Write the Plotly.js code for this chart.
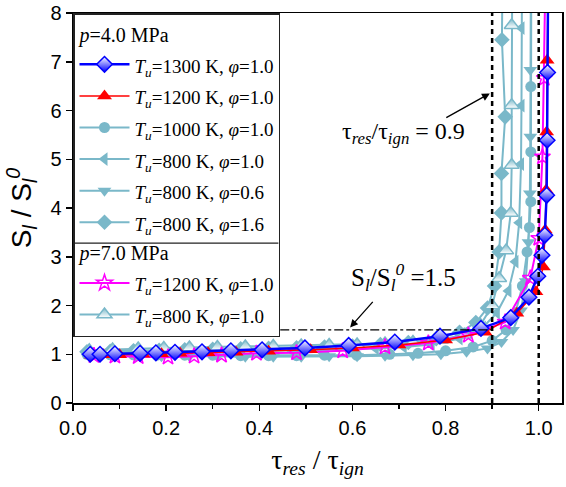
<!DOCTYPE html>
<html><head><meta charset="utf-8">
<script src="https://cdn.plot.ly/plotly-3.0.1.min.js"></script>
<style>body{margin:0;background:#fff}#plot{width:566px;height:487px}</style>
</head><body><div id="plot"></div>
<script>
// Tu=1300 K, phi=1.0, p=4.0 MPa
const x1300 = [0.037,0.058,0.090,0.144,0.178,0.219,0.277,0.339,0.406,0.498,0.592,0.691,0.788,0.876,0.940,0.979,0.998,1.007,1.013,1.017,1.018,1.019,1.020];
const y1300 = [1.00,1.00,1.01,1.02,1.03,1.04,1.05,1.07,1.09,1.13,1.18,1.25,1.37,1.53,1.75,2.17,2.60,3.03,3.44,4.26,5.39,6.78,8.40];
// Tu=1200 K, phi=1.0, p=4.0 MPa
const x1200 = [0.040,0.065,0.100,0.150,0.190,0.230,0.290,0.350,0.420,0.510,0.600,0.700,0.800,0.885,0.953,0.994,1.010,1.014,1.016,1.017,1.018,1.020];
const y1200 = [0.98,0.99,0.99,1.00,1.01,1.02,1.03,1.04,1.06,1.09,1.13,1.19,1.29,1.45,1.84,2.28,2.79,3.55,4.37,5.56,7.03,8.50];
// Tu=1000 K, phi=1.0, p=4.0 MPa
const x1000 = [0.030,0.080,0.130,0.180,0.240,0.300,0.360,0.420,0.480,0.540,0.609,0.680,0.741,0.800,0.859,0.900,0.930,0.950,0.965,0.975,0.980,0.983,0.983,0.983,0.984];
const y1000 = [1.00,0.99,0.99,0.98,0.98,0.98,0.97,0.97,0.97,0.98,0.98,1.00,1.02,1.07,1.15,1.28,1.50,1.85,2.40,3.10,3.60,4.13,5.15,6.49,8.50];
// Tu=800 K, phi=1.0, p=4.0 MPa
const x800a = [0.030,0.075,0.125,0.175,0.230,0.290,0.350,0.410,0.470,0.530,0.590,0.650,0.710,0.770,0.830,0.880,0.910,0.935,0.950,0.958,0.962,0.963,0.963,0.964];
const y800a = [1.02,1.03,1.03,1.04,1.04,1.05,1.05,1.06,1.07,1.08,1.10,1.12,1.15,1.20,1.32,1.55,1.85,2.30,2.90,3.70,4.90,6.10,7.69,8.50];
// Tu=800 K, phi=0.6, p=4.0 MPa
const x800b = [0.035,0.085,0.135,0.190,0.250,0.310,0.370,0.430,0.490,0.550,0.610,0.670,0.730,0.790,0.845,0.890,0.920,0.945,0.962,0.972,0.978,0.981,0.982,0.982,0.983];
const y800b = [0.97,0.97,0.96,0.96,0.96,0.96,0.95,0.95,0.95,0.96,0.96,0.97,0.98,1.00,1.05,1.12,1.25,1.50,1.90,2.50,3.30,4.30,5.46,6.83,8.50];
// Tu=800 K, phi=1.6, p=4.0 MPa
const x800c = [0.030,0.080,0.130,0.185,0.240,0.300,0.360,0.420,0.480,0.540,0.600,0.660,0.720,0.780,0.830,0.865,0.890,0.905,0.915,0.920,0.920,0.928,0.921,0.922];
const y800c = [1.05,1.06,1.07,1.08,1.09,1.10,1.11,1.12,1.13,1.15,1.17,1.20,1.24,1.32,1.45,1.65,1.95,2.40,3.10,3.90,4.71,5.87,7.45,8.50];
// p=7.0 MPa, Tu=1200 K, phi=1.0
const x7_1200 = [0.045,0.090,0.140,0.204,0.260,0.319,0.394,0.480,0.579,0.670,0.763,0.849,0.928,0.982,1.000,1.008,1.012,1.014];
const y7_1200 = [0.97,0.96,0.95,0.94,0.96,0.98,1.02,1.03,1.07,1.15,1.23,1.39,1.66,2.56,3.38,5.05,6.66,8.50];
// p=7.0 MPa, Tu=800 K, phi=1.0
const x7_800 = [0.035,0.085,0.140,0.195,0.250,0.310,0.370,0.430,0.490,0.550,0.610,0.670,0.730,0.790,0.840,0.875,0.900,0.915,0.930,0.940,0.942,0.942,0.942,0.943];
const y7_800 = [1.08,1.10,1.12,1.13,1.14,1.15,1.16,1.17,1.18,1.19,1.20,1.22,1.25,1.30,1.40,1.60,2.00,2.56,3.13,3.90,4.88,6.11,7.75,8.50];

const labels = [
  '<i>T</i><sub><i>u</i></sub>=1300 K, <i>φ</i>=1.0',
  '<i>T</i><sub><i>u</i></sub>=1200 K, <i>φ</i>=1.0',
  '<i>T</i><sub><i>u</i></sub>=1000 K, <i>φ</i>=1.0',
  '<i>T</i><sub><i>u</i></sub>=800 K, <i>φ</i>=1.0',
  '<i>T</i><sub><i>u</i></sub>=800 K, <i>φ</i>=0.6',
  '<i>T</i><sub><i>u</i></sub>=800 K, <i>φ</i>=1.6',
  '<i>T</i><sub><i>u</i></sub>=1200 K, <i>φ</i>=1.0',
  '<i>T</i><sub><i>u</i></sub>=800 K, <i>φ</i>=1.0'
];
const groupTitles = ['<i>p</i>=4.0 MPa', '<i>p</i>=7.0 MPa'];

const LB = '#7ab8c9';
const sp = s => '<span style="font-size:19px">' + s + '</span>';
const gfont = {family:'Liberation Serif, Times New Roman, serif', size:20, color:'#000'};

function tr(x, y, name, rank, group, color, marker, lw, title){
  const t = {x:x, y:y, name:sp(name), mode:'lines+markers', type:'scatter',
    legendgroup:group, legendrank:rank,
    line:{color:color, width:lw}, marker:marker};
  if (title) t.legendgrouptitle = {text:title, font:gfont};
  return t;
}

const data = [
  tr(x800c, y800c, labels[5], 6, 'g4', LB, {symbol:'diamond', size:12, color:LB}, 2),
  tr(x800b, y800b, labels[4], 5, 'g4', LB, {symbol:'triangle-down', size:12, color:LB}, 2),
  tr(x800a, y800a, labels[3], 4, 'g4', LB, {symbol:'triangle-left', size:12, color:LB}, 2),
  tr(x1000, y1000, labels[2], 3, 'g4', LB, {symbol:'circle', size:11, color:LB}, 2),
  tr(x7_800, y7_800, labels[7], 8, 'g7', LB, {symbol:'triangle-up', size:13, color:LB, gradient:{type:'vertical', color:'#ffffff'}, line:{color:LB, width:1.5}}, 2),
  tr(x7_1200, y7_1200, labels[6], 7, 'g7', '#ff00ff', {symbol:'star-open', size:12, color:'#ff00ff', line:{width:1.5}}, 2, groupTitles[1]),
  tr(x1200, y1200, labels[1], 2, 'g4', '#ff0000', {symbol:'triangle-up', size:13, color:'#ff0000'}, 1.5),
  tr(x1300, y1300, labels[0], 1, 'g4', '#0000ff', {symbol:'diamond', size:12, color:'#ffffff', gradient:{type:'vertical', color:'#0000ff'}, line:{color:'#0000ff', width:1.5}}, 2.5, groupTitles[0])
];

const tickFont = {family:'Liberation Sans, Arial, sans-serif', size:20, color:'#000'};
const serif = 'Liberation Serif, Times New Roman, serif';

const layout = {
  width:566, height:487,
  margin:{l:73, r:4, t:13, b:84},
  paper_bgcolor:'#fff', plot_bgcolor:'#fff',
  showlegend:true,
  legend:{x:0, y:1, xanchor:'left', yanchor:'top', bgcolor:'rgba(255,255,255,0)',
    bordercolor:'#222', borderwidth:1.5, font:{family:serif, size:22, color:'#000'},
    traceorder:'grouped', tracegroupgap:0, itemwidth:50},
  xaxis:{range:[0,1.05], tickvals:[0,0.2,0.4,0.6,0.8,1.0], ticktext:['0.0','0.2','0.4','0.6','0.8','1.0'],
    ticks:'outside', ticklen:6, tickwidth:1.5, tickcolor:'#000',
    minor:{tickvals:[0.1,0.3,0.5,0.7,0.9], ticks:'outside', ticklen:4, tickwidth:1.5, tickcolor:'#000'},
    showline:true, linewidth:1.5, linecolor:'#000', mirror:true, showgrid:false, zeroline:false,
    tickfont:tickFont,
    title:{text:'τ<sub><i>res</i></sub> / τ<sub><i>ign</i></sub>', font:{family:serif, size:28, color:'#000'}, standoff:12}},
  yaxis:{range:[0,8], dtick:1, ticks:'outside', ticklen:6, tickwidth:1.5, tickcolor:'#000',
    showline:true, linewidth:1.5, linecolor:'#000', mirror:true, showgrid:false, zeroline:false,
    tickfont:tickFont,
    title:{text:'S<sub><i>l</i></sub> / S<sub><i>l</i></sub><sup><i>0</i></sup>', font:{family:'Liberation Sans, Arial, sans-serif', size:28, color:'#000'}, standoff:10}},
  shapes:[
    {type:'line', xref:'x', yref:'paper', x0:0.9, x1:0.9, y0:0, y1:1, line:{color:'#000', width:2.5, dash:'5px,4px'}},
    {type:'line', xref:'x', yref:'paper', x0:1.0, x1:1.0, y0:0, y1:1, line:{color:'#000', width:2.5, dash:'5px,4px'}},
    {type:'line', xref:'x', yref:'y', x0:0.445, x1:0.9, y0:1.5, y1:1.5, line:{color:'#000', width:1.2, dash:'dashdot'}},
    {type:'line', xref:'paper', yref:'paper', x0:0, x1:0.42, y0:0.41, y1:0.41, line:{color:'#222', width:1.2}}
  ],
  annotations:[
    {xref:'x', yref:'y', x:0.709, y:5.54, showarrow:false, text:'τ<sub><i>res</i></sub>/τ<sub><i>ign</i></sub> = 0.9', font:{family:serif, size:24, color:'#000'}},
    {xref:'x', yref:'y', x:0.895, y:6.35, ax:-45, ay:25, showarrow:true, text:'', arrowhead:2, arrowsize:1.2, arrowwidth:1.3, arrowcolor:'#000'},
    {xref:'x', yref:'y', x:0.709, y:2.58, showarrow:false, text:'S<sub><i>l</i></sub>/S<sub><i>l</i></sub><sup><i>0</i></sup> =1.5', font:{family:serif, size:25, color:'#000'}},
    {xref:'x', yref:'y', x:0.595, y:1.55, ax:24, ay:-27, showarrow:true, text:'', arrowhead:2, arrowsize:1.2, arrowwidth:1.3, arrowcolor:'#000'}
  ]
};

Plotly.newPlot('plot', data, layout, {displayModeBar:false, staticPlot:true});
</script></body></html>
